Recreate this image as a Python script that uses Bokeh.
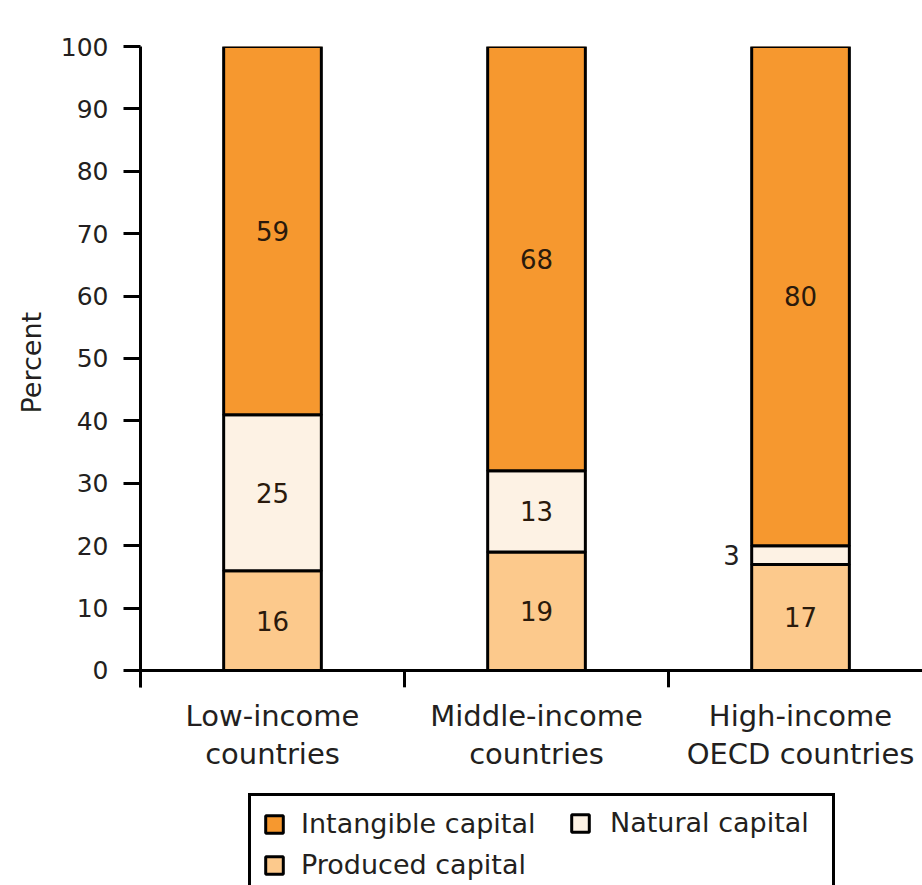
from bokeh.plotting import figure
from bokeh.models import ColumnDataSource, FixedTicker, Legend, LegendItem, Range1d, Title
from bokeh.core.properties import value
from bokeh.embed import file_html
from bokeh.resources import INLINE

categories = ["Low-income\ncountries", "Middle-income\ncountries", "High-income\nOECD countries"]
produced = [16, 19, 17]
natural = [25, 13, 3]
intangible = [59, 68, 80]
series_names = ["Produced capital", "Natural capital", "Intangible capital"]
series_values = [produced, natural, intangible]
colors = ["#FCC98C", "#FDF2E4", "#F6982F"]
y_ticks = list(range(0, 101, 10))

FONT = "DejaVu Sans"
BAR_W = 0.37
TXT = "#2a1a0c"
TICK_LEN = 2.7   # data units below 0 for the boundary ticks
LW = 3

xs = [i + 0.5 for i in range(len(categories))]
bounds = list(range(len(categories) + 1))

p = figure(width=922, height=885, x_range=Range1d(0, 2.962), y_range=Range1d(-34.46, 100),
           output_backend="svg", toolbar_location=None,
           min_border_left=140, min_border_right=0, min_border_top=46, min_border_bottom=0)
p.outline_line_color = None
p.xgrid.visible = False
p.ygrid.visible = False
p.xaxis.visible = False
p.background_fill_color = "white"
p.border_fill_color = "white"

# y axis
ya = p.yaxis[0]
ya.ticker = FixedTicker(ticks=y_ticks)
ya.bounds = (-TICK_LEN, 100)
ya.minor_tick_line_color = None
ya.major_tick_out = 17
ya.major_tick_in = 0
ya.axis_line_width = LW
ya.major_tick_line_width = LW
ya.axis_line_color = "black"
ya.major_tick_line_color = "black"
ya.major_label_standoff = 15
ya.major_label_text_font = FONT
ya.major_label_text_font_size = "25px"
ya.major_label_text_color = "#231f20"

p.add_layout(Title(text="Percent", align="left", offset=472, standoff=21,
                   text_font=FONT, text_font_size="27px", text_font_style="normal",
                   text_color="#231f20"), "left")

# baseline and boundary ticks
p.segment(x0=[0], x1=[3], y0=[0], y1=[0], line_color="black", line_width=LW)
p.segment(x0=bounds, x1=bounds, y0=[0] * len(bounds), y1=[-TICK_LEN] * len(bounds),
          line_color="black", line_width=LW)

# category labels
p.text(x=xs, y=[-4.6] * len(xs), text=categories, text_font=value(FONT), text_font_size="29px",
       text_align="center", text_baseline="top", text_color="#231f20", text_line_height=1.1)

renderers = {}
bottom = [0] * len(categories)
for name, vals, col in zip(series_names, series_values, colors):
    top = [b + v for b, v in zip(bottom, vals)]
    src = ColumnDataSource(dict(x=xs, bottom=bottom, top=top))
    r = p.vbar(x="x", width=BAR_W, bottom="bottom", top="top", source=src,
               fill_color=col, line_color="black", line_width=LW)
    renderers[name] = r
    inside_x, inside_y, inside_t = [], [], []
    out_x, out_y, out_t = [], [], []
    for x, b, v in zip(xs, bottom, vals):
        if v >= 5:
            inside_x.append(x); inside_y.append(b + v / 2); inside_t.append(str(v))
        else:
            out_x.append(x - BAR_W / 2 - 0.045); out_y.append(b + v / 2); out_t.append(str(v))
    p.text(x=inside_x, y=inside_y, text=inside_t, text_font=value(FONT), text_font_size="26px",
           text_align="center", text_baseline="middle", text_color=TXT)
    if out_x:
        p.text(x=out_x, y=out_y, text=out_t, text_font=value(FONT), text_font_size="26px",
               text_align="right", text_baseline="middle", text_color="#231f20")
    bottom = top

common = dict(label_text_font=FONT, label_text_font_size="27px", label_text_color="#231f20",
              glyph_width=22, glyph_height=22, padding=12, spacing=10, margin=0)

# main legend box (first column, box spans full width)
leg1 = Legend(items=[LegendItem(label="Intangible capital", renderers=[renderers["Intangible capital"]]),
                     LegendItem(label="Produced capital", renderers=[renderers["Produced capital"]])],
              location=(108, -10), label_width=519, label_standoff=16,
              border_line_color="black", border_line_width=LW, border_line_alpha=1,
              background_fill_color="white", background_fill_alpha=1, **common)
# second column item
leg2 = Legend(items=[LegendItem(label="Natural capital", renderers=[renderers["Natural capital"]])],
              location=(429, 47), label_standoff=19,
              border_line_color=None, background_fill_alpha=0, **common)
p.add_layout(leg1)
p.add_layout(leg2)

open("out.html", "w").write(file_html(p, INLINE))
